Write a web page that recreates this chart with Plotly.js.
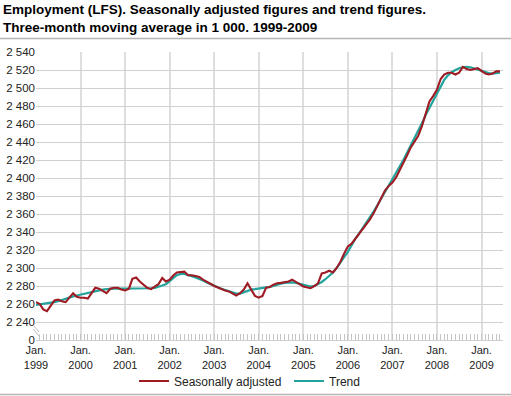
<!DOCTYPE html>
<html><head><meta charset="utf-8">
<script src="https://cdn.plot.ly/plotly-3.0.1.min.js"></script>
<style>html,body{margin:0;padding:0;background:#fff}#chart{width:511px;height:396px}</style>
</head><body><div id="chart"></div>
<script>
// Monthly data, Jan 1999 - Jun 2009 (1 000 persons)
const startYear = 1999;
const seasonallyAdjusted = [
  2262, 2260, 2254, 2252, 2258, 2264, 2265, 2263, 2262, 2267, 2272, 2268,
  2267, 2267, 2266, 2272, 2278, 2277, 2275, 2272, 2277, 2278, 2278, 2276,
  2275, 2277, 2288, 2289.5, 2285, 2281.5, 2278, 2276.5, 2279, 2282, 2289, 2285,
  2287, 2292, 2295, 2295.5, 2296, 2292, 2292, 2291, 2290, 2287, 2285, 2282.5,
  2280, 2278, 2276.5, 2275, 2274, 2272, 2269.5, 2272, 2276, 2283, 2275, 2269,
  2267, 2269, 2278, 2279, 2281.5, 2283, 2283.5, 2284, 2285, 2287, 2284, 2282,
  2279.5, 2278.5, 2277.5, 2280, 2283, 2294, 2295, 2297, 2295, 2300, 2307, 2316,
  2324, 2327, 2332, 2337, 2342, 2348, 2354, 2361, 2369, 2377, 2386, 2391,
  2395, 2401, 2408, 2416, 2425, 2434, 2441, 2447, 2458, 2472, 2485, 2491,
  2498, 2510, 2515, 2517, 2517, 2515, 2517, 2523.5, 2521, 2520, 2521, 2522,
  2519, 2516, 2515, 2516, 2518.5, 2518.5
];
const trend = [
  2259, 2259.5, 2260, 2260.5, 2261, 2262, 2263, 2264.5, 2266, 2267, 2268.5, 2269.5,
  2270.5, 2271.5, 2272.5, 2273.5, 2274.5, 2275.5, 2276, 2276.5, 2277, 2277, 2277, 2277,
  2277, 2277, 2277, 2277, 2277, 2277, 2277, 2277.5, 2278, 2279, 2280.5, 2282,
  2285, 2289, 2292, 2293.5, 2293.5, 2292.5, 2291, 2289.5, 2288, 2286, 2284, 2282,
  2280, 2278.5, 2277, 2275.5, 2274, 2272.5, 2271.5, 2271.5, 2273, 2275, 2276, 2276.5,
  2277, 2277.5, 2278, 2279, 2280, 2281.5, 2282.5, 2283.5, 2284, 2284, 2283.5, 2282.5,
  2281, 2280, 2279.5, 2280, 2282, 2284.5, 2287.5, 2291, 2295, 2300, 2305.5, 2312,
  2318, 2326, 2332, 2338, 2344, 2350, 2356.5, 2363, 2370, 2377, 2384, 2391,
  2398, 2405, 2412.5, 2420, 2428, 2436, 2444, 2452, 2461, 2470, 2478, 2486,
  2494, 2502, 2509, 2514, 2517.5, 2520, 2522, 2523, 2523.5, 2523, 2522, 2520.5,
  2519, 2517.5, 2516.5, 2516, 2516.5, 2517
];
const yTickVals = [2220, 2240, 2260, 2280, 2300, 2320, 2340, 2360, 2380, 2400, 2420, 2440, 2460, 2480, 2500, 2520, 2540];
const yTickText = ['0', '2 240', '2 260', '2 280', '2 300', '2 320', '2 340', '2 360', '2 380', '2 400', '2 420', '2 440', '2 460', '2 480', '2 500', '2 520', '2 540'];
const xTickYears = [1999, 2000, 2001, 2002, 2003, 2004, 2005, 2006, 2007, 2008, 2009];
const seriesNames = ['Seasonally adjusted', 'Trend'];
const titleText = '<b>Employment (LFS). Seasonally adjusted figures and trend figures.<br>Three-month moving average in 1 000. 1999-2009</b>';

function monthDate(i) {
  const y = startYear + Math.floor(i / 12);
  const m = (i % 12) + 1;
  return y + '-' + (m < 10 ? '0' + m : m) + '-01';
}
const dates = seasonallyAdjusted.map((_, i) => monthDate(i));
const xTickVals = xTickYears.map(y => y + '-01-01');
const xTickText = xTickYears.map(y => 'Jan.<br>' + y);

const RED = '#9e1b24';
const TEAL = '#22a39c';

const traces = [
  {x: dates, y: trend, type: 'scatter', mode: 'lines', name: seriesNames[1],
   line: {color: TEAL, width: 2.2}, legendrank: 2},
  {x: dates, y: seasonallyAdjusted, type: 'scatter', mode: 'lines', name: seriesNames[0],
   line: {color: RED, width: 2.1}, legendrank: 1}
];

const L = 36, T = 52, W = 467, H = 288;
const px = v => (v - L) / W;
const py = v => (T + H - v) / H;

const layout = {
  width: 511, height: 396,
  margin: {l: L, r: 511 - L - W, t: T, b: 396 - T - H, autoexpand: false},
  paper_bgcolor: '#fff', plot_bgcolor: '#fff',
  font: {family: 'Arial, "Liberation Sans", sans-serif', size: 11, color: '#222'},
  title: {text: titleText, x: 3 / 511, xref: 'container', xanchor: 'left',
          y: 1 - 14 / 396, yref: 'container', yanchor: 'top',
          font: {size: 13.5, color: '#000'}},
  showlegend: true,
  legend: {orientation: 'h', x: px(134), xanchor: 'left', y: py(381), yanchor: 'middle',
           font: {size: 12, color: '#222'}, itemwidth: 30, entrywidth: 110, entrywidthmode: 'pixels',
           bgcolor: 'rgba(0,0,0,0)'},
  xaxis: {type: 'date', range: ['1999-01-01', '2009-06-26'],
          tickmode: 'array', tickvals: xTickVals, ticktext: xTickText,
          ticks: 'inside', ticklen: 6, tickcolor: '#c4c4c4', tickwidth: 1,
          showgrid: true, gridcolor: '#dedede', gridwidth: 2,
          zeroline: false, showline: true, linecolor: '#cfcfcf', linewidth: 1,
          minor: {dtick: 'M1', ticks: 'inside', ticklen: 6, tickcolor: '#c4c4c4', showgrid: false},
          tickfont: {size: 11, color: '#222'}, fixedrange: true},
  yaxis: {range: [2220, 2540], tickmode: 'array', tickvals: yTickVals, ticktext: yTickText,
          showgrid: true, gridcolor: '#d0d0d0', gridwidth: 1, zeroline: false,
          ticks: '', showline: false, tickfont: {size: 11.5, color: '#222'}, fixedrange: true},
  shapes: [
    {type: 'line', xref: 'paper', yref: 'paper', x0: px(0), x1: px(511), y0: py(38.5), y1: py(38.5),
     line: {color: '#b5b5b5', width: 1.5}},
    {type: 'line', xref: 'paper', yref: 'paper', x0: px(0), x1: px(511), y0: py(394.5), y1: py(394.5),
     line: {color: '#b5b5b5', width: 1.5}},
    {type: 'rect', xref: 'paper', yref: 'paper', x0: px(33), x1: px(39.5), y0: py(335), y1: py(327),
     fillcolor: '#fff', line: {width: 0}},
    {type: 'line', xref: 'paper', yref: 'paper', x0: px(33), x1: px(39), y0: py(325), y1: py(332),
     line: {color: '#bdbdbd', width: 1}},
    {type: 'line', xref: 'paper', yref: 'paper', x0: px(33), x1: px(39), y0: py(329), y1: py(336),
     line: {color: '#bdbdbd', width: 1}}
  ]
};

Plotly.newPlot('chart', traces, layout, {staticPlot: true, displayModeBar: false});
</script>
</body></html>
